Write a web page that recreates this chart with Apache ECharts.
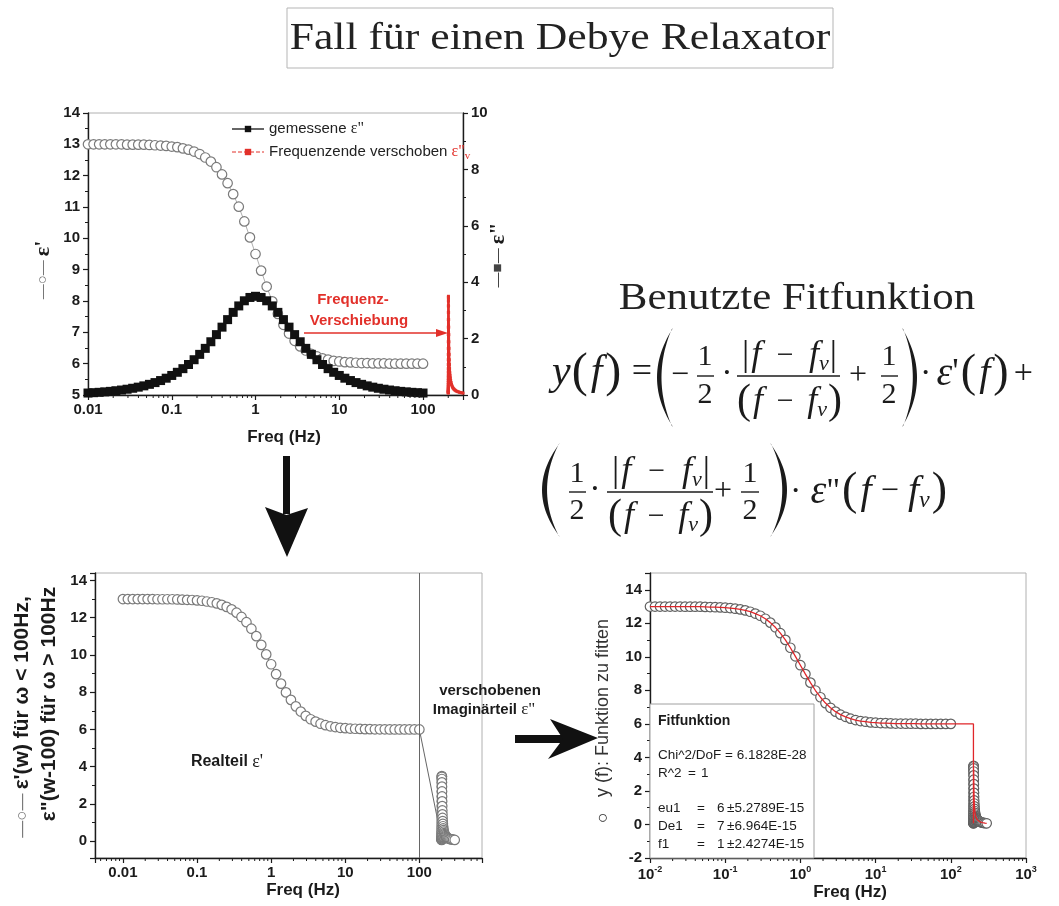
<!DOCTYPE html>
<html><head><meta charset="utf-8">
<script src="https://cdn.jsdelivr.net/npm/echarts@6/dist/echarts.min.js"></script>
<style>html,body{margin:0;padding:0;background:#fff}#c{width:1059px;height:906px}</style>
</head><body><div id="c"></div>
<script>
// ---------------- data ----------------
const freqHz = [0.01,0.01166,0.01359,0.01585,0.01848,0.02154,0.02512,0.02929,0.03415,0.03981,0.04642,0.05412,0.0631,0.07356,0.08577,
  0.1,0.1166,0.1359,0.1585,0.1848,0.2154,0.2512,0.2929,0.3415,0.3981,0.4642,0.5412,0.631,0.7356,0.8577,
  1,1.166,1.359,1.585,1.848,2.154,2.512,2.929,3.415,3.981,4.642,5.412,6.31,7.356,8.577,
  10,11.66,13.59,15.85,18.48,21.54,25.12,29.29,34.15,39.81,46.42,54.12,63.1,73.56,85.77,100];
const epsReal = [13.00,13.00,13.00,13.00,13.00,13.00,13.00,12.99,12.99,12.99,12.99,12.98,12.97,12.96,12.95,
  12.93,12.91,12.87,12.83,12.77,12.69,12.58,12.45,12.27,12.04,11.76,11.41,11.01,10.54,10.03,
  9.50,8.97,8.46,7.99,7.59,7.24,6.96,6.73,6.55,6.42,6.31,6.23,6.17,6.13,6.09,
  6.07,6.05,6.04,6.03,6.02,6.02,6.01,6.01,6.01,6.00,6.00,6.00,6.00,6.00,6.00,6.00];
const epsImag = [0.070,0.082,0.095,0.111,0.129,0.151,0.176,0.205,0.239,0.278,0.324,0.378,0.440,0.512,0.596,
  0.693,0.805,0.934,1.082,1.251,1.441,1.654,1.888,2.141,2.406,2.673,2.930,3.159,3.341,3.459,
  3.500,3.459,3.341,3.159,2.930,2.673,2.406,2.141,1.888,1.654,1.441,1.251,1.082,0.934,0.805,
  0.693,0.596,0.512,0.440,0.378,0.324,0.278,0.239,0.205,0.176,0.151,0.129,0.111,0.095,0.082,0.070];
const shiftHz = 200; // f_v : Frequenzverschiebung

const decTickValues = [0.01,0.1,1,10,100];
const decTickLabels = ['0.01','0.1','1','10','100'];
const expTickValues = [0.01,0.1,1,10,100,1000];
const expTickLabels = ['-2','-1','0','1','2','3'];
const topLeftYTicks = [5,6,7,8,9,10,11,12,13,14];
const topRightYTicks = [0,2,4,6,8,10];
const blYTicks = [0,2,4,6,8,10,12,14];
const brYTicks = [-2,0,2,4,6,8,10,12,14];

const fitTitle = 'Fitfunktion';
const fitChi2 = '6.1828E-28';
const fitR2 = '1';
const fitParamNames = ['eu1','De1','f1'];
const fitParamValues = ['6','7','1'];
const fitParamErrors = ['±5.2789E-15','±6.964E-15','±2.4274E-15'];

// ---------------- derived tables ----------------
const realPts = freqHz.map((f,i)=>[f, epsReal[i]]);
const imagPts = freqHz.map((f,i)=>[f, epsImag[i]]);
const shiftedPts = freqHz.map((f,i)=>[f + shiftHz, epsImag[i]]);
const combinedPts = realPts.concat(shiftedPts);
const fitPts = realPts.concat([[shiftHz, epsReal[epsReal.length-1]]], shiftedPts);

const SANS = '"Liberation Sans", Arial, sans-serif';
const SERIF = '"Liberation Serif", "Times New Roman", serif';
const INK = '#1b1b1b';
const RED = '#e2302a';
const NAME_MEAS = 'gemessene ε"';
const NAME_SHIFT = 'Frequenzende verschoben εv';

function labelLookup(vals, labels){
  return v => { for (let i=0;i<vals.length;i++){ if (Math.abs(v/vals[i]-1) < 1e-6) return labels[i]; } return ''; };
}
function yLookup(vals){
  return v => { for (const t of vals){ if (Math.abs(v-t) < 1e-6) return String(t); } return ''; };
}
function minorLog(lo, hi){
  const out=[];
  for (let e=-3;e<=3;e++) for (let m=2;m<=9;m++){ const v=m*Math.pow(10,e); if (v>lo*1.0001 && v<hi*0.9999) out.push(v); }
  return out;
}
const axLine = {show:true, onZero:false, lineStyle:{color:INK, width:1.4}};
const axTick = {show:true, length:5, lineStyle:{color:INK, width:1.2}};
const lblStyle = {color:INK, fontFamily:SANS, fontWeight:'bold', fontSize:15};

function logX(grid, min, max, fmt, rich){
  return {gridIndex:grid, type:'log', logBase:10, min, max,
    axisLine:axLine, axisTick:axTick,
    axisLabel:Object.assign({formatter:fmt, margin:7, rich:rich}, lblStyle),
    splitLine:{show:false}};
}
function valY(grid, pos, min, max, extra, fmt){
  return Object.assign({gridIndex:grid, type:'value', position:pos, min, max,
    axisLine:axLine, axisTick:axTick,
    minorTick:{show:true, splitNumber:2, length:3, lineStyle:{color:INK, width:1}},
    axisLabel:Object.assign({formatter:fmt, margin:8}, lblStyle),
    splitLine:{show:false}}, extra);
}
function minorSeries(xi, yi, vals, yRef){
  return {type:'custom', xAxisIndex:xi, yAxisIndex:yi, silent:true, z:5, clip:false,
    data: vals.map(v=>[v, yRef]),
    renderItem:(params, api)=>{
      const p = api.coord([api.value(0), api.value(1)]);
      const cs = params.coordSys; const yb = cs.y + cs.height;
      return {type:'line', shape:{x1:p[0], y1:yb, x2:p[0], y2:yb+3}, style:{stroke:INK, lineWidth:1}};
    }};
}
const circleItem = {color:'#fff', borderColor:'#7a7a7a', borderWidth:1.2};

// ---------------- graphics (text, arrows, formula) ----------------
const G = [];
function T(x, y, text, o){
  o = o || {};
  const el = {type:'text', x, y, z:60, rotation:o.rot||0, scaleX:o.sx||1,
    style:{text, fill:o.color||INK, fontSize:o.size||15, fontFamily:o.family||SANS,
      fontWeight:o.weight||'normal', fontStyle:o.italic?'italic':'normal',
      align:o.align||'center', verticalAlign:'middle', rich:o.rich}};
  G.push(el); return el;
}
const mctx = document.createElement('canvas').getContext('2d');
function mw(t, s, it){ mctx.font = (it?'italic ':'') + s + 'px ' + SERIF; return mctx.measureText(t).width; }
function F(t, s, i, extra){ return Object.assign({t, s, i:!!i}, extra||{}); }
function seqBox(parts, x0, x1, y){
  const w = parts.map(p=>mw(p.t,p.s,p.i));
  const pads = parts.reduce((a,p)=>a+(p.pad||0),0);
  const total = w.reduce((a,b)=>a+b,0) + pads;
  const ng = parts.filter((p,k)=>k>0 && !p.tight).length;
  const gap = ng>0 ? (x1-x0-total)/ng : 0;
  let x = x0;
  parts.forEach((p,k)=>{
    if (k>0 && !p.tight) x += gap;
    x += (p.pad||0);
    T(x, y + (p.dy||0), p.t, {size:p.s, italic:p.i, family:SERIF, align:'left'});
    x += w[k];
  });
}
function bar(x0, x1, y){ G.push({type:'line', z:60, shape:{x1:x0, y1:y, x2:x1, y2:y}, style:{stroke:INK, lineWidth:1.4}}); }
function frac12(cx, bx0, bx1, by, ny, dy){
  bar(bx0, bx1, by);
  T(cx, ny, '1', {size:30, family:SERIF});
  T(cx, dy, '2', {size:30, family:SERIF});
}
function paren(x0, x1, y0, y1, left){
  const w = x1-x0, th = Math.max(3.2, w*0.28), N = 28, pts = [];
  const cxo = 2*x0 - x1, xe = x1 - 1.4, cxi = 2*(x0+th) - xe;
  for (let k=0;k<=N;k++){ const t=k/N; const x=(1-t)*(1-t)*x1+2*t*(1-t)*cxo+t*t*x1; pts.push([x, y0+(y1-y0)*t]); }
  for (let k=0;k<=N;k++){ const t=k/N; const x=(1-t)*(1-t)*xe+2*t*(1-t)*cxi+t*t*xe; pts.push([x, (y1-1.5)-(y1-y0-3)*t]); }
  const P = left ? pts : pts.map(p=>[x0+x1-p[0], p[1]]);
  G.push({type:'polygon', z:60, shape:{points:P}, style:{fill:INK}});
}

// title box
G.push({type:'rect', z:55, shape:{x:287, y:8, width:546, height:60}, style:{fill:'#fff', stroke:'#b5b5b5', lineWidth:1}});
T(560, 39, 'Fall für einen Debye Relaxator', {size:37, family:SERIF, sx:1.18, color:'#222'});
T(797, 299, 'Benutzte Fitfunktion', {size:37, family:SERIF, sx:1.16, color:'#222'});

// formula line 1
const absNum = [F('|',36), F('f',36,1,{tight:1,pad:2}), F('−',30), F('f',36,1), F('v',22,1,{tight:1,dy:8}), F('|',36,0,{tight:1,pad:1})];
const denom = [F('(',42), F('f',36,1,{tight:1,pad:2}), F('−',30), F('f',36,1), F('v',22,1,{tight:1,dy:8}), F(')',42,0,{tight:1,pad:1})];
seqBox([F('y',42,1), F('(',48,0,{tight:1,pad:1}), F('f',42,1,{tight:1,pad:3}), F(')',48,0,{tight:1,pad:3}), F('=',36)], 552, 652, 373);
paren(657, 673, 328, 427, true);
T(680, 376, '−', {size:32, family:SERIF});
frac12(705, 697, 714, 376, 357, 395);
T(727, 374, '·', {size:34, family:SERIF});
bar(737, 840, 376);
seqBox(absNum, 742, 837, 356);
seqBox(denom, 737, 842, 402);
T(858, 376, '+', {size:32, family:SERIF});
frac12(889, 881, 898, 376, 357, 395);
paren(902, 917, 328, 427, false);
seqBox([F('·',34), F('ε',40,1), F("'",36,0,{tight:1}), F('(',46,0,{tight:1,pad:2}), F('f',40,1,{tight:1,pad:3}), F(')',46,0,{tight:1,pad:3}), F('+',34)], 920, 1033, 374);
// formula line 2
paren(542, 560, 443, 537, true);
frac12(577, 569, 586, 492, 474, 511);
T(595, 490, '·', {size:34, family:SERIF});
bar(607, 713, 492);
seqBox(absNum, 612, 710, 472);
seqBox(denom, 608, 713, 517);
T(723, 492, '+', {size:32, family:SERIF});
frac12(750, 741, 759, 492, 474, 511);
paren(770, 787, 443, 537, false);
seqBox([F('·',34), F('ε',40,1), F('"',34,0,{tight:1}), F('(',46,0,{tight:1,pad:2}), F('f',40,1,{tight:1,pad:3}), F('−',32), F('f',40,1), F('v',24,1,{tight:1,dy:9}), F(')',46,0,{tight:1,pad:2})], 790, 947, 492);

// arrows
G.push({type:'rect', z:60, shape:{x:283, y:456, width:7, height:58}, style:{fill:'#111'}});
G.push({type:'polygon', z:60, shape:{points:[[265,507],[286.5,515],[308,508],[287,557]]}, style:{fill:'#111'}});
G.push({type:'rect', z:60, shape:{x:515, y:735, width:50, height:8}, style:{fill:'#111'}});
G.push({type:'polygon', z:60, shape:{points:[[550,719],[563,739],[548,759],[598,738]]}, style:{fill:'#111'}});
// red arrow in top chart
G.push({type:'line', z:60, shape:{x1:304, y1:333, x2:440, y2:333}, style:{stroke:RED, lineWidth:1.5}});
G.push({type:'polygon', z:60, shape:{points:[[436,329],[448,333],[436,337]]}, style:{fill:RED}});
T(353, 300, 'Frequenz-', {size:15, weight:'bold', color:RED});
T(359, 321, 'Verschiebung', {size:15, weight:'bold', color:RED});

// axis names
T(284, 437, 'Freq (Hz)', {size:17, weight:'bold'});
T(303, 890, 'Freq (Hz)', {size:17, weight:'bold'});
T(850, 892, 'Freq (Hz)', {size:17, weight:'bold'});
T(43, 270, '{g|—○—} {e|ε\'}', {rot:Math.PI/2, rich:{g:{fontSize:15, fill:'#777', fontFamily:SANS}, e:{fontSize:22, fontWeight:'bold', fontFamily:SERIF, fill:INK}}});
T(498, 255, '{g|—■—} {e|ε"}', {rot:Math.PI/2, rich:{g:{fontSize:15, fill:'#444', fontFamily:SANS}, e:{fontSize:22, fontWeight:'bold', fontFamily:SERIF, fill:INK}}});
T(22, 717, '{g|—○—} {b|ε\'(w) für ω < 100Hz,}', {rot:Math.PI/2, rich:{g:{fontSize:17, fill:'#777', fontFamily:SANS}, b:{fontSize:21, fontWeight:'bold', fontFamily:SANS, fill:INK}}});
T(49, 704, 'ε"(w-100) für ω > 100Hz', {rot:Math.PI/2, size:21, weight:'bold'});
T(603, 721, '○   y (f): Funktion zu fitten', {rot:Math.PI/2, size:18, color:'#333'});

// annotations
T(227, 762, 'Realteil {e|ε\'}', {size:16, weight:'bold', rich:{e:{fontSize:18, fontFamily:SERIF, fill:INK}}});
T(490, 691, 'verschobenen', {size:15, weight:'bold'});
T(484, 710, 'Imaginärteil {e|ε"}', {size:15, weight:'bold', rich:{e:{fontSize:17, fontFamily:SERIF, fill:INK}}});

// fit result box
G.push({type:'rect', z:55, shape:{x:650, y:704, width:164, height:154}, style:{fill:'#fff', stroke:'#a0a0a0', lineWidth:1}});
T(658, 721, fitTitle, {size:14, weight:'bold', align:'left'});
T(658, 755, 'Chi^2/DoF = ' + fitChi2, {size:13.5, align:'left'});
T(658, 773, 'R^2', {size:13.5, align:'left'});
T(688, 773, '=', {size:13.5, align:'left'});
T(701, 773, fitR2, {size:13.5, align:'left'});
const fitRowsY = [808, 826, 844];
fitParamNames.forEach((n,i)=>{
  T(658, fitRowsY[i], n, {size:13.5, align:'left'});
  T(697, fitRowsY[i], '=', {size:13.5, align:'left'});
  T(717, fitRowsY[i], fitParamValues[i], {size:13.5, align:'left'});
  T(727, fitRowsY[i], fitParamErrors[i], {size:13.5, align:'left'});
});

// ---------------- chart option ----------------
const option = {
  animation:false,
  backgroundColor:'#fff',
  grid:[
    {left:88, top:113, width:375, height:282, show:true, borderColor:'#b0b0b0', borderWidth:1},
    {left:95, top:573, width:387, height:285, show:true, borderColor:'#b0b0b0', borderWidth:1},
    {left:650, top:573, width:376, height:285, show:true, borderColor:'#b0b0b0', borderWidth:1}
  ],
  legend:{
    left:226, top:116, orient:'vertical', itemWidth:32, itemHeight:8, itemGap:7,
    data:[{name:NAME_MEAS}, {name:NAME_SHIFT, lineStyle:{width:1, type:'dashed'}}],
    textStyle:{fontFamily:SANS, fontSize:15, color:'#222',
      rich:{e:{fontFamily:SERIF, fontSize:16, color:'#222'}, r:{fontFamily:SERIF, fontSize:16, color:RED}, v:{fontFamily:SERIF, fontSize:11, color:RED, padding:[9,0,0,0]}}},
    formatter: n => n === NAME_MEAS ? 'gemessene {e|ε"}' : 'Frequenzende verschoben {r|ε"}{v|v}'
  },
  xAxis:[
    logX(0, 0.01, 300, labelLookup(decTickValues, decTickLabels)),
    logX(1, 0.0042, 700, labelLookup(decTickValues, decTickLabels)),
    logX(2, 0.01, 1000, v => { const l = labelLookup(expTickValues, expTickLabels)(v); return l === '' ? '' : '{b|10}{s|' + l + '}'; },
      {b:{fontSize:15, fontWeight:'bold', fontFamily:SANS, color:INK, verticalAlign:'middle'},
       s:{fontSize:9, fontWeight:'bold', fontFamily:SANS, color:INK, verticalAlign:'middle', padding:[0,0,11,0]}})
  ],
  yAxis:[
    valY(0, 'left', 5, 14, {interval:1}, yLookup(topLeftYTicks)),
    valY(0, 'right', 0, 10, {interval:2}, yLookup(topRightYTicks)),
    valY(1, 'left', -0.9, 14.4, {splitNumber:8}, yLookup(blYTicks)),
    valY(2, 'left', -2, 15, {interval:2}, yLookup(brYTicks))
  ],
  series:[
    {name:"eps'", type:'line', xAxisIndex:0, yAxisIndex:0, data:realPts, symbol:'circle', symbolSize:9.5,
      itemStyle:circleItem, lineStyle:{color:'#999', width:0.8}, z:3},
    {name:NAME_MEAS, type:'line', xAxisIndex:0, yAxisIndex:1, data:imagPts, symbol:'rect', symbolSize:9,
      itemStyle:{color:'#111'}, lineStyle:{color:'#666', width:0.8}, z:4},
    {name:NAME_SHIFT, type:'line', xAxisIndex:0, yAxisIndex:1, data:shiftedPts, symbol:'rect', symbolSize:3,
      itemStyle:{color:RED}, lineStyle:{color:RED, width:2.6}, z:4},
    {type:'line', xAxisIndex:1, yAxisIndex:2, data:combinedPts, symbol:'circle', symbolSize:9.5,
      itemStyle:circleItem, lineStyle:{color:'#666', width:1}, z:3,
      markLine:{silent:true, symbol:'none', label:{show:false}, lineStyle:{color:'#666', type:'solid', width:1},
        data:[{xAxis:freqHz[freqHz.length-1]}]}},
    {type:'line', xAxisIndex:2, yAxisIndex:3, data:combinedPts, symbol:'circle', symbolSize:9.5,
      itemStyle:{color:'#fff', borderColor:'#606060', borderWidth:1.2}, lineStyle:{width:0, opacity:0}, z:3},
    {type:'line', xAxisIndex:2, yAxisIndex:3, data:fitPts, symbol:'none', showSymbol:false,
      lineStyle:{color:'#e0262a', width:1.3}, z:6},
    minorSeries(0, 0, minorLog(0.01, 300), 9),
    minorSeries(1, 2, minorLog(0.0042, 700), 7),
    minorSeries(2, 3, minorLog(0.01, 1000), 7)
  ],
  graphic: G
};
const chart = echarts.init(document.getElementById('c'), null, {renderer:'canvas'});
chart.setOption(option);
</script>
</body></html>
